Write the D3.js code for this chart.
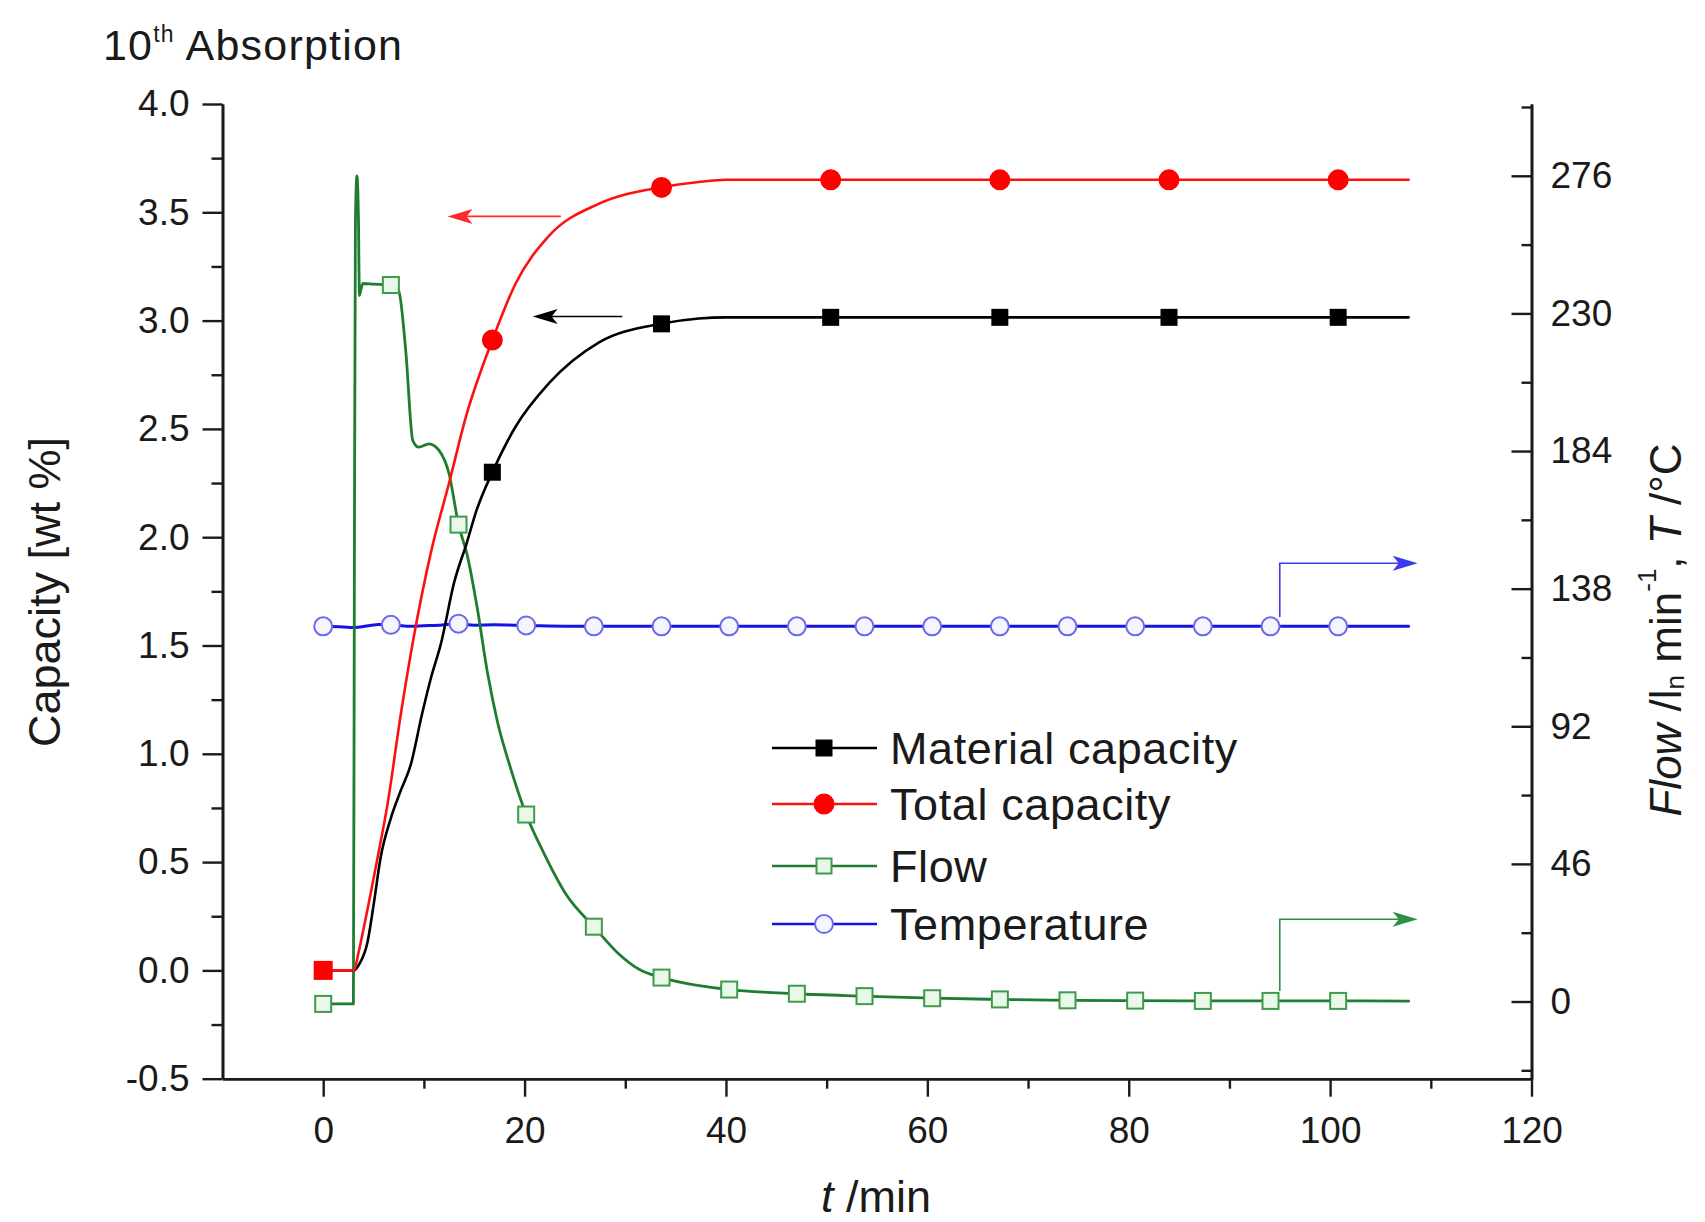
<!DOCTYPE html>
<html>
<head>
<meta charset="utf-8">
<script src="https://cdn.jsdelivr.net/npm/d3@7"></script>
<style>
  html, body { margin: 0; padding: 0; background: #fff; }
  svg { display: block; }
  text { font-family: "Liberation Sans", Arial, Helvetica, sans-serif; fill: #1a1a1a; }
</style>
</head>
<body>
<svg id="chart" width="1705" height="1222"></svg>
<script>
// ---------------- DATA ----------------
const xTicks = [0, 20, 40, 60, 80, 100, 120];
const xMinorTicks = [10, 30, 50, 70, 90, 110];
const leftTicks = [-0.5, 0.0, 0.5, 1.0, 1.5, 2.0, 2.5, 3.0, 3.5, 4.0];
const leftMinorTicks = [-0.25, 0.25, 0.75, 1.25, 1.75, 2.25, 2.75, 3.25, 3.75];
const rightTicks = [0, 46, 92, 138, 184, 230, 276];
const rightMinorTicks = [-23, 23, 69, 115, 161, 207, 253, 299];

// Material capacity curve [wt %] (left axis)
const materialT = [0, 3.05, 3.6, 4.4, 5.0, 5.7, 6.7, 7.7, 8.7, 9.8, 10.7, 11.7, 13.0, 14.3, 15.2, 16.8, 19.1, 22.4, 27.4, 33.5, 37.3, 40.0, 107.8];
const materialV = [0, 0, 0.03, 0.13, 0.30, 0.52, 0.70, 0.83, 0.95, 1.18, 1.35, 1.51, 1.79, 1.98, 2.12, 2.30, 2.51, 2.71, 2.90, 2.985, 3.01, 3.015, 3.015];

// Total capacity curve [wt %] (left axis)
const totalT = [0, 3.05, 3.5, 4.0, 5.4, 6.4, 7.7, 9.0, 10.7, 12.5, 14.2, 16.8, 19.1, 22.4, 27.4, 33.5, 37.3, 40.0, 107.8];
const totalV = [0, 0, 0.08, 0.19, 0.52, 0.77, 1.18, 1.54, 1.93, 2.25, 2.56, 2.91, 3.17, 3.39, 3.54, 3.615, 3.64, 3.65, 3.65];

// Flow curve (right axis)
const flowT = [0, 3.0, 3.1, 3.2, 3.35, 3.5, 3.6, 3.75, 3.95, 5.0, 6.72, 7.5, 8.2, 8.9, 9.5, 10.5, 11.5, 12.5, 13.44, 14.3, 15.3, 16.3, 17.3, 18.6, 20.16, 21.9, 24.2, 26.88, 29.2, 31.5, 33.6, 37.5, 40.3, 47.0, 53.8, 60.5, 67.2, 74.0, 80.6, 87.4, 94.1, 100.8, 107.8];
const flowV = [-0.8, -0.8, 150, 260, 276, 262, 236, 238, 240, 239.8, 239.5, 237.5, 217.5, 187.5, 185.3, 186.4, 184.2, 176.4, 159.4, 149.3, 131.5, 110.2, 93.6, 78.1, 62.5, 49.7, 35.4, 25.0, 16.4, 10.5, 8.0, 5.2, 4.0, 2.6, 1.8, 1.1, 0.7, 0.4, 0.3, 0.2, 0.2, 0.2, 0.1];

// Temperature curve [°C] (right axis)
const tempT = [0, 2.0, 3.0, 4.5, 5.5, 6.72, 8.5, 10.0, 11.5, 13.44, 15.0, 17.0, 20.16, 26.88, 107.8];
const tempV = [125.4, 125.2, 125.0, 125.6, 126.0, 125.9, 125.4, 125.6, 125.8, 126.3, 125.8, 125.9, 125.7, 125.4, 125.4];

// Marker positions
const capMarkerT = [0, 16.8, 33.6, 50.4, 67.2, 84.0, 100.8];
const materialMarkers = [0, 2.30, 2.985, 3.015, 3.015, 3.015, 3.015];
const totalMarkers = [0, 2.91, 3.615, 3.65, 3.65, 3.65, 3.65];
const ftMarkerT = [0, 6.72, 13.44, 20.16, 26.88, 33.6, 40.32, 47.04, 53.76, 60.48, 67.2, 73.92, 80.64, 87.36, 94.08, 100.8];
const flowMarkers = [-0.8, 239.5, 159.4, 62.5, 25.0, 8.0, 4.0, 2.6, 1.8, 1.1, 0.7, 0.4, 0.3, 0.2, 0.2, 0.2];
const tempMarkers = [125.4, 125.9, 126.3, 125.7, 125.4, 125.4, 125.4, 125.4, 125.4, 125.4, 125.4, 125.4, 125.4, 125.4, 125.4, 125.4];

// Axis-assignment arrows (data coordinates)
const capArrows = [
  { series: "total", from: 23.6, to: 12.35, y: 3.481 },
  { series: "material", from: 29.7, to: 20.8, y: 3.019 }
];
const rightArrows = [
  { series: "temp", x: 95.0, yFrom: 128.5, yTo: 146.5, xTo: 108.7 },
  { series: "flow", x: 95.0, yFrom: 3.5, yTo: 27.5, xTo: 108.7 }
];

const legendLabels = ["Material capacity", "Total capacity", "Flow", "Temperature"];

// ---------------- STYLES ----------------
const colors = {
  material: { line: "#000000", stroke: "#000000", fill: "#000000", arrow: "#000000" },
  total: { line: "#ff1010", stroke: "#ff0000", fill: "#ff0000", arrow: "#ff2a2a" },
  flow: { line: "#1e7d30", stroke: "#3f9a4c", fill: "#e9f8e9", arrow: "#2f8f45" },
  temp: { line: "#1414e6", stroke: "#6b6be6", fill: "#f5f5ff", arrow: "#3a3af0" }
};

// ---------------- SCALES ----------------
const svg = d3.select("#chart");
const x = d3.scaleLinear().domain([-10, 120]).range([222.5, 1531.5]);
const yL = d3.scaleLinear().domain([-0.5, 4.0]).range([1078.7, 104]);
const yR = d3.scaleLinear().domain([-25.8, 300]).range([1078.7, 104]);

const fmt1 = d => d.toFixed(1);

// ---------------- AXES ----------------
const axisStroke = g => {
  g.selectAll("path.domain").attr("stroke", "#1a1a1a").attr("stroke-width", 2.6);
  g.selectAll(".tick line").attr("stroke", "#1a1a1a").attr("stroke-width", 2.4);
  g.selectAll(".tick text").style("font-size", "37px").attr("fill", "#1a1a1a")
    .style("font-family", '"Liberation Sans", Arial, sans-serif');
};

// left
svg.append("g").attr("transform", `translate(${x(-10)},0)`)
  .call(d3.axisLeft(yL).tickValues(leftMinorTicks).tickSize(11).tickSizeOuter(0).tickFormat(""))
  .call(axisStroke);
svg.append("g").attr("transform", `translate(${x(-10)},0)`)
  .call(d3.axisLeft(yL).tickValues(leftTicks).tickSize(20).tickSizeOuter(0).tickPadding(13).tickFormat(fmt1))
  .call(axisStroke);

// right (ticks inward)
svg.append("g").attr("transform", `translate(${x(120)},0)`)
  .call(d3.axisRight(yR).tickValues(rightMinorTicks).tickSize(-10).tickSizeOuter(0).tickFormat(""))
  .call(axisStroke);
svg.append("g").attr("transform", `translate(${x(120)},0)`)
  .call(d3.axisRight(yR).tickValues(rightTicks).tickSizeInner(-20).tickSizeOuter(0).tickPadding(19).tickFormat(d3.format("d")))
  .call(axisStroke);

// bottom
svg.append("g").attr("transform", `translate(0,${yL(-0.5)})`)
  .call(d3.axisBottom(x).tickValues(xMinorTicks).tickSize(10).tickSizeOuter(0).tickFormat(""))
  .call(axisStroke);
svg.append("g").attr("transform", `translate(0,${yL(-0.5)})`)
  .call(d3.axisBottom(x).tickValues(xTicks).tickSize(18).tickSizeOuter(0).tickPadding(20).tickFormat(d3.format("d")))
  .call(axisStroke);

// ---------------- CURVES ----------------
const plot = svg.append("g");
function drawCurve(ts, vs, yScale, key, width) {
  const pts = ts.map((t, i) => [t, vs[i]]);
  const line = d3.line().x(d => x(d[0])).y(d => yScale(d[1])).curve(d3.curveMonotoneX);
  plot.append("path").attr("d", line(pts)).attr("fill", "none")
    .attr("stroke", colors[key].line).attr("stroke-width", width)
    .attr("stroke-linejoin", "round").attr("stroke-linecap", "round");
}
drawCurve(tempT, tempV, yR, "temp", 3);
drawCurve(flowT, flowV, yR, "flow", 2.8);
drawCurve(materialT, materialV, yL, "material", 2.6);
drawCurve(totalT, totalV, yL, "total", 2.6);

// ---------------- ARROWS ----------------
function arrowHead(g, tipX, tipY, dir, color) {
  const L = 25, H = 7.5;
  const bx = tipX - dir * L;
  g.append("path").attr("d", `M${tipX},${tipY}L${bx},${tipY - H}L${bx + dir * 6},${tipY}L${bx},${tipY + H}Z`)
    .attr("fill", color).attr("stroke", "none");
}
const arrG = svg.append("g");
capArrows.forEach(a => {
  const c = colors[a.series].arrow;
  arrG.append("line").attr("x1", x(a.from)).attr("x2", x(a.to) + 10).attr("y1", yL(a.y)).attr("y2", yL(a.y))
    .attr("stroke", c).attr("stroke-width", 1.6);
  arrowHead(arrG, x(a.to), yL(a.y), -1, c);
});
rightArrows.forEach(a => {
  const c = colors[a.series].arrow;
  arrG.append("path")
    .attr("d", `M${x(a.x)},${yR(a.yFrom)}V${yR(a.yTo)}H${x(a.xTo) - 10}`)
    .attr("fill", "none").attr("stroke", c).attr("stroke-width", 1.6);
  arrowHead(arrG, x(a.xTo), yR(a.yTo), 1, c);
});

// ---------------- MARKERS ----------------
const mk = svg.append("g");
function square(g, cx, cy, s, key) {
  g.append("rect").attr("x", cx - s / 2).attr("y", cy - s / 2).attr("width", s).attr("height", s)
    .attr("fill", colors[key].fill).attr("stroke", colors[key].stroke).attr("stroke-width", 2);
}
function circle(g, cx, cy, r, key) {
  g.append("circle").attr("cx", cx).attr("cy", cy).attr("r", r)
    .attr("fill", colors[key].fill).attr("stroke", colors[key].stroke).attr("stroke-width", 2);
}
ftMarkerT.forEach((t, i) => circle(mk, x(t), yR(tempMarkers[i]), 9, "temp"));
ftMarkerT.forEach((t, i) => square(mk, x(t), yR(flowMarkers[i]), 16, "flow"));
capMarkerT.forEach((t, i) => square(mk, x(t), yL(materialMarkers[i]), 15, "material"));
capMarkerT.forEach((t, i) => {
  if (i === 0) square(mk, x(t), yL(totalMarkers[i]), 17, "total");
  else circle(mk, x(t), yL(totalMarkers[i]), 9.5, "total");
});

// ---------------- LEGEND ----------------
const legendKeys = ["material", "total", "flow", "temp"];
const legendRowY = [748, 804, 866, 924];
const lg = svg.append("g");
legendKeys.forEach((k, i) => {
  const yy = legendRowY[i];
  lg.append("line").attr("x1", 772).attr("x2", 877).attr("y1", yy).attr("y2", yy)
    .attr("stroke", colors[k].line).attr("stroke-width", 2.6);
  if (k === "material") square(lg, 824, yy, 15, k);
  if (k === "total") circle(lg, 824, yy, 9.5, k);
  if (k === "flow") square(lg, 824, yy, 15, k);
  if (k === "temp") circle(lg, 824, yy, 9, k);
  lg.append("text").attr("x", 890).attr("y", yy).attr("dominant-baseline", "central")
    .style("font-size", "45px").style("letter-spacing", "0.6px").text(legendLabels[i]);
});

// ---------------- TITLES ----------------
const t1 = svg.append("text").attr("x", 103).attr("y", 60).style("font-size", "43px").style("letter-spacing", "1.2px");
t1.append("tspan").text("10");
t1.append("tspan").attr("dy", -18).style("font-size", "23px").text("th");
t1.append("tspan").attr("dy", 18).text(" Absorption");

svg.append("text").attr("transform", "translate(44,592) rotate(-90)")
  .attr("text-anchor", "middle").attr("dominant-baseline", "central")
  .style("font-size", "45px").text("Capacity [wt %]");

const xt = svg.append("text").attr("x", 876).attr("y", 1212).attr("text-anchor", "middle").style("font-size", "45px");
xt.append("tspan").style("font-style", "italic").text("t");
xt.append("tspan").text(" /min");

const rt = svg.append("text").attr("transform", "translate(1665,630) rotate(-90)")
  .attr("text-anchor", "middle").attr("dominant-baseline", "central").style("font-size", "44px");
rt.append("tspan").style("font-style", "italic").text("Flow");
rt.append("tspan").text(" /l");
rt.append("tspan").attr("dy", 10).style("font-size", "26px").text("n");
rt.append("tspan").attr("dy", -10).text(" min");
rt.append("tspan").attr("dy", -18).style("font-size", "26px").text("-1");
rt.append("tspan").attr("dy", 18).text(", ");
rt.append("tspan").style("font-style", "italic").text("T");
rt.append("tspan").text(" /°C");
</script>
</body>
</html>
